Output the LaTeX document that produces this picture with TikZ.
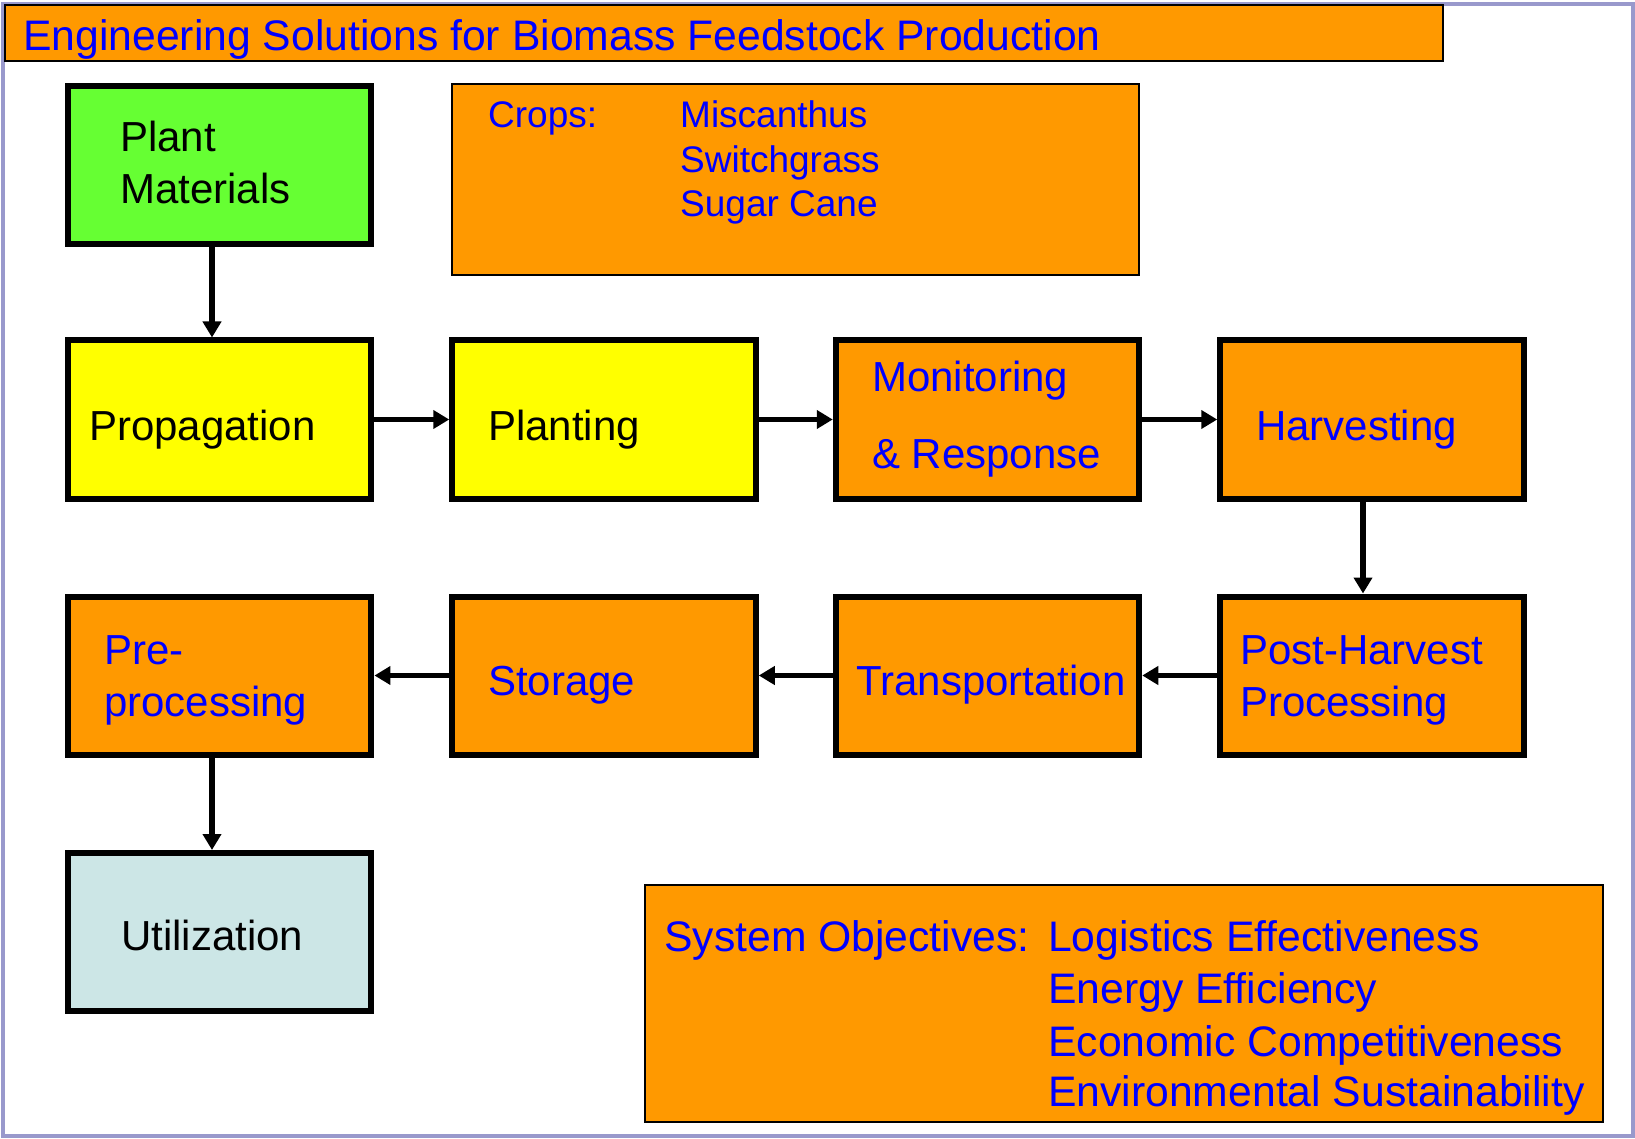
\documentclass[tikz,border=0pt]{standalone}
\usepackage{fontspec}
\setmainfont{Liberation Sans}
\usetikzlibrary{arrows.meta}
\definecolor{orng}{HTML}{FF9900}
\definecolor{grn}{HTML}{66FF33}
\definecolor{ylw}{HTML}{FFFF00}
\definecolor{lblue}{HTML}{CCE6E6}
\definecolor{lav}{HTML}{9999CC}
\definecolor{txtblue}{HTML}{0000FF}
\tikzset{
  stagebox/.style={draw=black, line width=6pt, minimum width=303.5pt, minimum height=158pt, inner sep=0pt},
  infobox/.style={draw=black, line width=2pt, inner sep=0pt, fill=orng},
  big/.style={font=\fontsize{42}{50}\selectfont, inner sep=0pt, anchor=base west},
  bigger/.style={font=\fontsize{42.7}{50}\selectfont, inner sep=0pt, anchor=base west},
  mid/.style={font=\fontsize{37}{44}\selectfont, inner sep=0pt, anchor=base west, text=txtblue},
  flow/.style={line width=5.5pt, -{Triangle[length=16pt,width=18pt]}},
}
\begin{document}
\begin{tikzpicture}[x=1pt,y=-1pt]
\useasboundingbox (0,0) rectangle (1635,1139);
% outer frame
\draw[lav, line width=4pt] (3,4) rectangle (1633,1136);
% title
\node[infobox, line width=2.5pt, minimum width=1438pt, minimum height=56pt] (title) at (724,33) {};
\node[bigger, text=txtblue] (titletxt) at (23,51) {Engineering Solutions for Biomass Feedstock Production};
% crops box
\node[infobox, minimum width=687pt, minimum height=191pt] (crops) at (795.5,179.5) {};
\node[mid] (cropslbl) at (488,128) {Crops:};
\node[mid] (c1) at (680,128) {Miscanthus};
\node[mid] (c2) at (680,173) {Switchgrass};
\node[mid] (c3) at (680,217) {Sugar Cane};
% objectives box
\node[infobox, minimum width=958pt, minimum height=237pt] (obj) at (1124,1003.5) {};
\node[bigger, text=txtblue] (objlbl) at (664,951) {System Objectives:};
\node[bigger, text=txtblue] (o1) at (1048,951) {Logistics Effectiveness};
\node[bigger, text=txtblue] (o2) at (1048,1003) {Energy Efficiency};
\node[bigger, text=txtblue] (o3) at (1048,1056) {Economic Competitiveness};
\node[bigger, text=txtblue] (o4) at (1048,1106) {Environmental Sustainability};
% stage boxes
\node[stagebox, fill=grn] (pm) at (219.7,165) {};
\node[stagebox, fill=ylw] (prop) at (219.7,419.5) {};
\node[stagebox, fill=ylw] (plant) at (604,419.5) {};
\node[stagebox, fill=orng] (mon) at (987.5,419.5) {};
\node[stagebox, fill=orng] (harv) at (1372,419.5) {};
\node[stagebox, fill=orng] (post) at (1372,675.5) {};
\node[stagebox, fill=orng] (trans) at (987.5,675.5) {};
\node[stagebox, fill=orng] (stor) at (604,675.5) {};
\node[stagebox, fill=orng] (pre) at (219.7,675.5) {};
\node[stagebox, fill=lblue] (util) at (219.7,932) {};
% stage texts
\node[big] (t1a) at (120,152) {Plant};
\node[big] (t1b) at (120,204) {Materials};
\node[big] (t2) at (89,440) {Propagation};
\node[big] (t3) at (488,440) {Planting};
\node[big, text=txtblue] (t4a) at (872,391) {Monitoring};
\node[big, text=txtblue] (t4b) at (872,468) {\& Response};
\node[big, text=txtblue] (t5) at (1256,440) {Harvesting};
\node[big, text=txtblue] (t6a) at (1240,664) {Post-Harvest};
\node[big, text=txtblue] (t6b) at (1240,716) {Processing};
\node[big, text=txtblue] (t7) at (856,695) {Transportation};
\node[big, text=txtblue] (t8) at (488,695) {Storage};
\node[big, text=txtblue] (t9a) at (104,664) {Pre-};
\node[big, text=txtblue] (t9b) at (104,716) {processing};
\node[big] (t10) at (121,950) {Utilization};
% connectors
\draw[flow] ([xshift=-7.7pt]pm.south) -- ([xshift=-7.7pt]prop.north);
\draw[flow] (prop.east) -- (plant.west);
\draw[flow] (plant.east) -- (mon.west);
\draw[flow] (mon.east) -- (harv.west);
\draw[flow] ([xshift=-9pt]harv.south) -- ([xshift=-9pt]post.north);
\draw[flow] (post.west) -- (trans.east);
\draw[flow] (trans.west) -- (stor.east);
\draw[flow] (stor.west) -- (pre.east);
\draw[flow] ([xshift=-7.7pt]pre.south) -- ([xshift=-7.7pt]util.north);
\end{tikzpicture}
\end{document}
